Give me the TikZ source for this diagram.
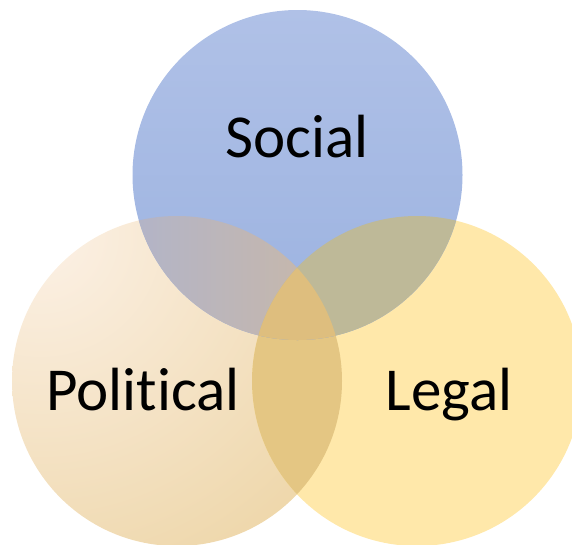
\documentclass[tikz,border=0pt]{standalone}
\usepackage{fontspec}
\setmainfont{Carlito}[Ligatures=NoCommon]
\definecolor{socTop}{RGB}{176,193,231}
\definecolor{socBot}{RGB}{155,178,224}
\definecolor{polIn}{RGB}{252,241,230}
\definecolor{polOut}{RGB}{226,192,118}
\definecolor{legFill}{RGB}{255,232,170}
\definecolor{plFill}{RGB}{228,198,131}
\definecolor{spLeft}{RGB}{178,180,200}
\definecolor{spRight}{RGB}{202,184,166}
\definecolor{slFill}{RGB}{190,185,152}
\definecolor{allFill}{RGB}{222,190,126}
\tikzset{lbl/.style={font=\fontsize{61}{72}\selectfont, text=black, anchor=base, inner sep=0pt}}
\begin{document}
\begin{tikzpicture}[x=1pt,y=-1pt]
\useasboundingbox (0,0) rectangle (572,544);
\coordinate (S) at (297.5,175);
\coordinate (P) at (177,381);
\coordinate (L) at (417,381);
% Political
\begin{scope}
\clip (P) circle (165pt);
\shade[inner color=polIn, outer color=polOut] (40,235) circle (700pt);
\end{scope}
% Legal
\fill[legFill] (L) circle (165pt);
% Political & Legal
\begin{scope}
\clip (P) circle (165pt);
\fill[plFill] (L) circle (165pt);
\end{scope}
% Social
\shade[top color=socTop, bottom color=socBot] (S) circle (165pt);
% Social & Political
\begin{scope}
\clip (S) circle (165pt);
\clip (P) circle (165pt);
\shade[left color=spLeft, right color=spRight] (130,200) rectangle (345,345);
\end{scope}
% Social & Legal
\begin{scope}
\clip (S) circle (165pt);
\fill[slFill] (L) circle (165pt);
\end{scope}
% All three
\begin{scope}
\clip (S) circle (165pt);
\clip (P) circle (165pt);
\fill[allFill] (L) circle (165pt);
\end{scope}
\node[lbl] (social) at (297,157) {Social};
\node[lbl] (political) at (143,410) {Political};
\node[lbl] (legal) at (449,410) {Legal};
\end{tikzpicture}
\end{document}
